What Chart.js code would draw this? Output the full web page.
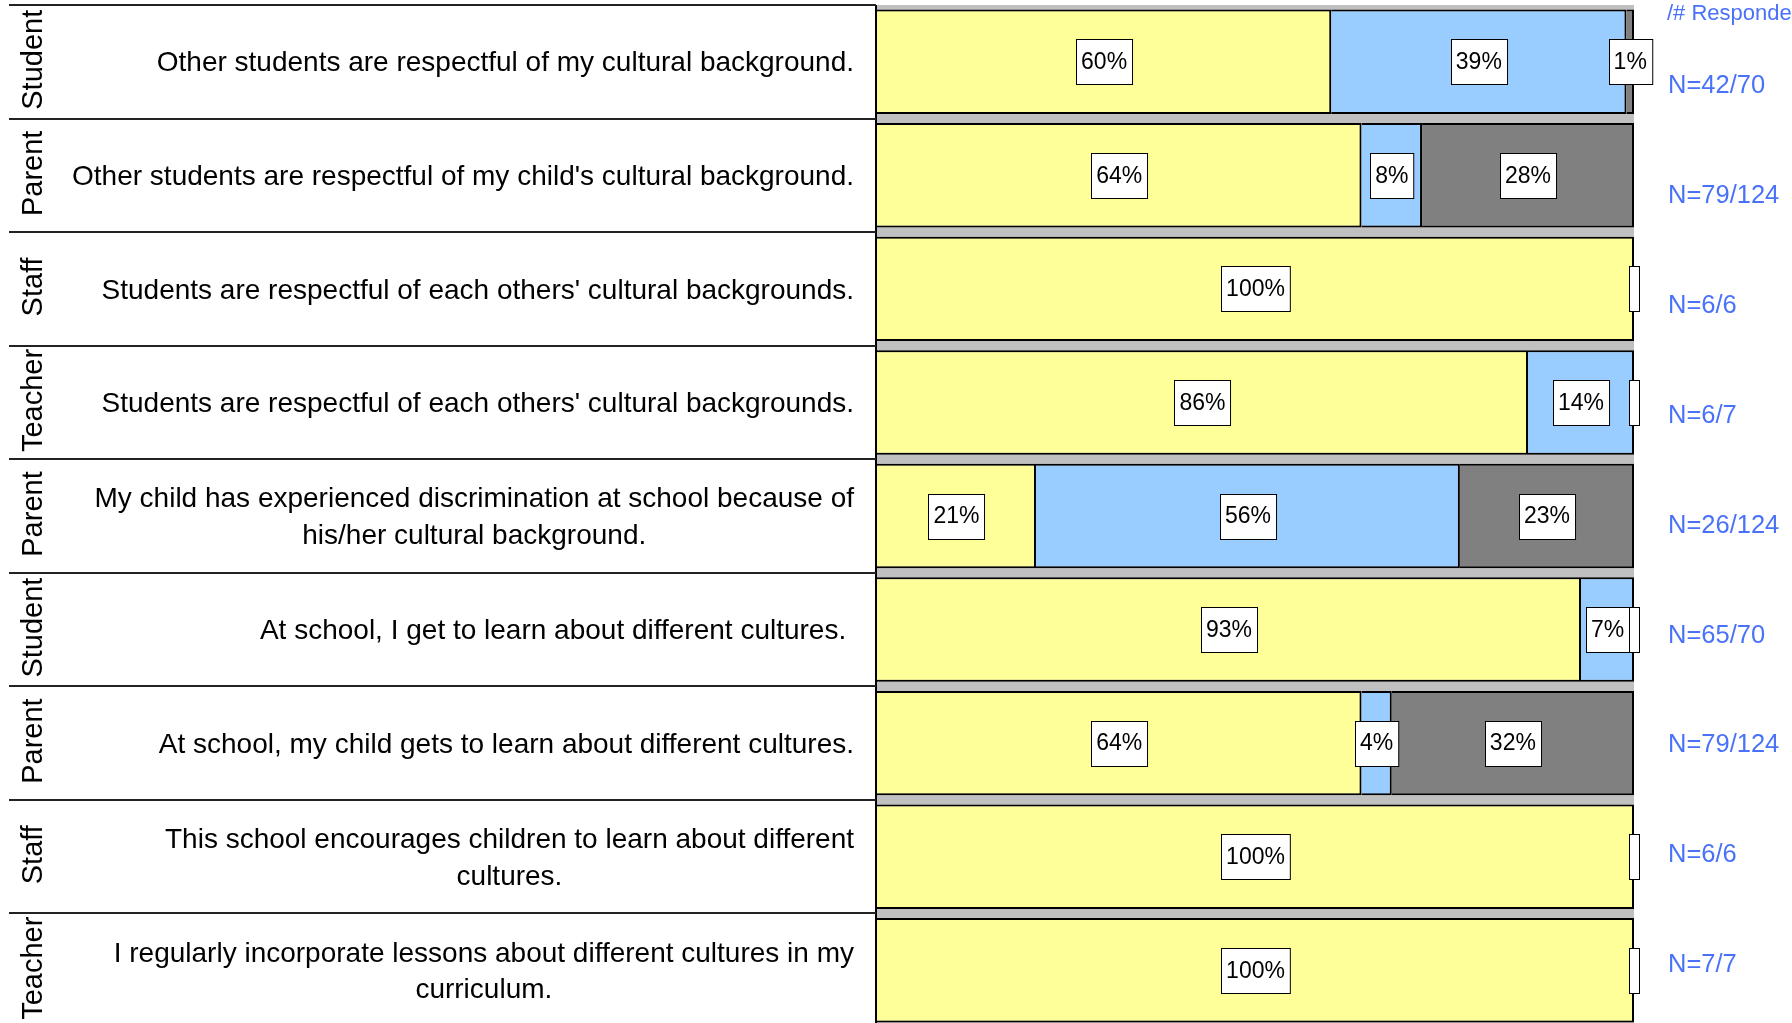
<!DOCTYPE html>
<html>
<head>
<meta charset="utf-8">
<script src="https://cdn.jsdelivr.net/npm/chart.js@4/dist/chart.umd.min.js"></script>
<style>
  html, body { margin: 0; padding: 0; background: #fff; overflow: hidden; }
  #grafico { display: block; }
</style>
</head>
<body>
<canvas id="grafico" width="1792" height="1030"></canvas>
<script>
const grupos = ["Student", "Parent", "Staff", "Teacher", "Parent", "Student", "Parent", "Staff", "Teacher"];
const perguntas = [
  "Other students are respectful of my cultural background.",
  "Other students are respectful of my child's cultural background.",
  "Students are respectful of each others' cultural backgrounds.",
  "Students are respectful of each others' cultural backgrounds.",
  ["My child has experienced discrimination at school because of", "his/her cultural background."],
  "At school, I get to learn about different cultures. ",
  "At school, my child gets to learn about different cultures.",
  ["This school encourages children to learn about different", "cultures."],
  ["I regularly incorporate lessons about different cultures in my", "curriculum."]
];
const concordam = [60, 64, 100, 86, 21, 93, 64, 100, 100];
const discordam = [39, 8, 0, 14, 56, 7, 4, 0, 0];
const naoSabem = [1, 28, 0, 0, 23, 0, 32, 0, 0];
const respostas = ["N=42/70", "N=79/124", "N=6/6", "N=6/7", "N=26/124", "N=65/70", "N=79/124", "N=6/6", "N=7/7"];
const tituloRespostas = "/# Respondents";

const fonte = "'Liberation Sans', Arial, sans-serif";

// fundo cinza da area do grafico
const fundoPlugin = {
  id: "fundo",
  beforeDraw(chart) {
    const { ctx, chartArea: a } = chart;
    ctx.save();
    ctx.fillStyle = "#c0c0c0";
    ctx.fillRect(a.left, a.top, a.right - a.left, a.bottom - a.top);
    ctx.restore();
  }
};

// rotulos dos segmentos, textos da esquerda e N=
const textosPlugin = {
  id: "textos",
  afterDraw(chart) {
    const { ctx, chartArea: a } = chart;
    const y = chart.scales.y;
    const passo = y.getPixelForValue(1) - y.getPixelForValue(0);
    ctx.save();

    // linha da esquerda do grafico
    ctx.strokeStyle = "#000";
    ctx.lineWidth = 2;
    ctx.beginPath();
    ctx.moveTo(a.left - 1, a.top);
    ctx.lineTo(a.left - 1, a.bottom);
    ctx.stroke();

    // separadores da coluna de perguntas
    ctx.strokeStyle = "#222";
    ctx.lineWidth = 2;
    for (let i = 0; i <= grupos.length; i++) {
      const yy = Math.round(y.getPixelForValue(0) - passo / 2 + i * passo);
      ctx.beginPath();
      ctx.moveTo(9, yy);
      ctx.lineTo(a.left - 1, yy);
      ctx.stroke();
    }

    ctx.fillStyle = "#000";
    grupos.forEach((g, i) => {
      const cy = y.getPixelForValue(i);
      ctx.save();
      ctx.font = `29px ${fonte}`;
      ctx.translate(42, cy - 2);
      ctx.rotate(-Math.PI / 2);
      ctx.textAlign = "center";
      ctx.textBaseline = "alphabetic";
      ctx.fillText(g, 0, 0);
      ctx.restore();

      ctx.font = `28px ${fonte}`;
      ctx.textBaseline = "middle";
      ctx.textAlign = "center";
      const linhas = Array.isArray(perguntas[i]) ? perguntas[i] : [perguntas[i]];
      const largura = Math.max(...linhas.map((l) => ctx.measureText(l).width));
      const cx = 854 - largura / 2;
      const alt = 36.6;
      linhas.forEach((l, k) => {
        ctx.fillText(l, cx, cy + (k - (linhas.length - 1) / 2) * alt + 2);
      });
    });

    // caixas de rotulo dos segmentos
    ctx.font = `23px ${fonte}`;
    ctx.textAlign = "center";
    ctx.textBaseline = "middle";
    chart.data.datasets.forEach((ds, d) => {
      chart.getDatasetMeta(d).data.forEach((bar, i) => {
        const valor = ds.data[i];
        const texto = valor > 0 ? valor + "%" : "";
        const cx = (bar.x + bar.base) / 2;
        const w = ctx.measureText(texto).width + 10;
        const h = 45;
        const x0 = Math.round(cx - w / 2) + 0.5;
        const y0 = Math.round(bar.y - h / 2) + 0.5;
        ctx.fillStyle = "#fff";
        ctx.fillRect(x0, y0, w, h);
        ctx.strokeStyle = "#000";
        ctx.lineWidth = 1;
        ctx.strokeRect(x0, y0, w, h);
        ctx.fillStyle = "#000";
        ctx.fillText(texto, cx, bar.y + 1);
      });
    });

    // coluna N=
    ctx.fillStyle = "#4a72f8";
    ctx.textAlign = "left";
    ctx.textBaseline = "middle";
    ctx.font = `22px ${fonte}`;
    ctx.fillText(tituloRespostas, 1667, 14);
    ctx.font = `25.5px ${fonte}`;
    respostas.forEach((r, i) => {
      ctx.fillText(r, 1668, 86 + i * 109.9);
    });
    ctx.restore();
  }
};

new Chart(document.getElementById("grafico"), {
  type: "bar",
  data: {
    labels: grupos.map((g, i) => g + " " + i),
    datasets: [
      { label: "Agree", data: concordam, backgroundColor: "#ffff99" },
      { label: "Disagree", data: discordam, backgroundColor: "#99ccff" },
      { label: "Don't Know", data: naoSabem, backgroundColor: "#808080" }
    ].map((ds) => ({ ...ds, borderColor: "#000", borderWidth: 2, barPercentage: 0.92, categoryPercentage: 1 }))
  },
  options: {
    indexAxis: "y",
    responsive: false,
    animation: false,
    devicePixelRatio: 1,
    layout: { padding: { left: 877, right: 158, top: 5, bottom: 3 } },
    plugins: { legend: { display: false }, tooltip: { enabled: false } },
    scales: {
      x: { stacked: true, min: 0, max: 100, display: false },
      y: { stacked: true, display: false }
    }
  },
  plugins: [fundoPlugin, textosPlugin]
});
</script>
</body>
</html>
